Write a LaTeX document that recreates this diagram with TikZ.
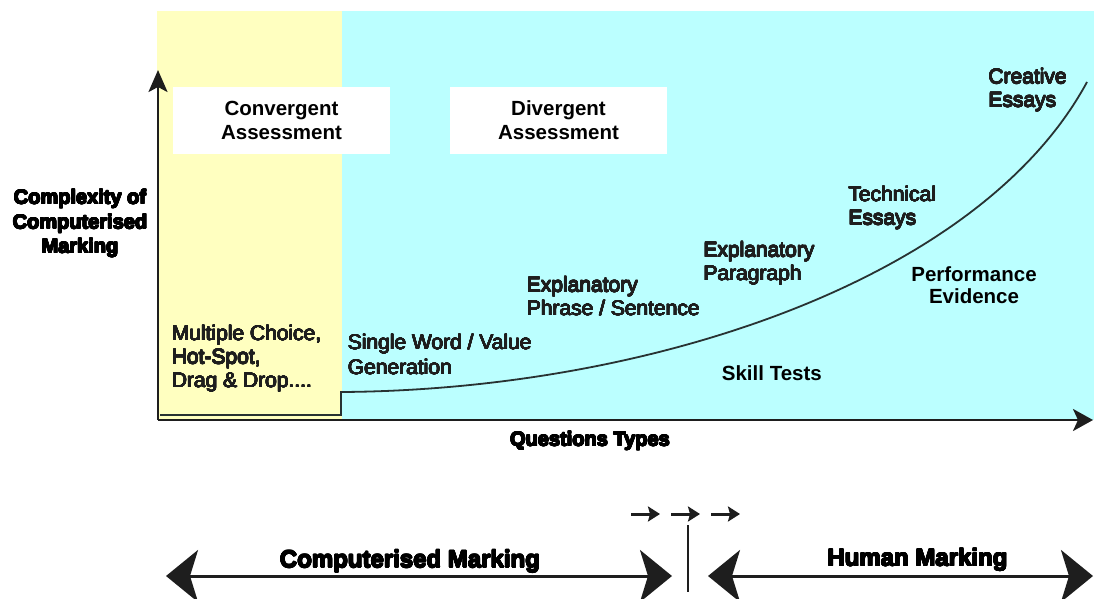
\documentclass[tikz,border=0pt]{standalone}
\usepackage{fontspec}
\setmainfont{Liberation Sans}
\usepackage[copies]{contour}
\contournumber{16}
\usetikzlibrary{arrows.meta}
\definecolor{convfill}{RGB}{255,255,192}
\definecolor{divfill}{RGB}{187,255,255}
\definecolor{inkgrey}{RGB}{30,30,30}
\definecolor{axisink}{RGB}{30,30,30}
\definecolor{curveink}{RGB}{40,50,50}
% thickened strokes for the question labels and the axis titles
\newcommand\heavyq[1]{\contourlength{0.35pt}\contour{inkgrey}{#1}}
\newcommand\heavyt[1]{\contourlength{0.55pt}\contour{black}{#1}}

\begin{document}
\begin{tikzpicture}[x=1pt,y=-1pt,
  qlabel/.style={inner sep=0pt, anchor=north west, align=left, text=inkgrey,
    font=\fontsize{21}{23.5}\selectfont},
  boldlabel/.style={inner sep=0pt, text=black,
    font=\bfseries\fontsize{20.5}{21.6}\selectfont},
  assessbox/.style={fill=white, minimum width=217pt, minimum height=67pt,
    inner sep=0pt, align=center, font=\bfseries\fontsize{20.5}{24}\selectfont},
  axistitle/.style={inner sep=0pt, align=center, text=black,
    font=\bfseries\fontsize{20}{24.5}\selectfont},
  bandtitle/.style={inner sep=0pt, anchor=base, text=black,
    font=\bfseries\fontsize{24}{28}\selectfont},
  axisline/.style={draw=axisink, line width=2.6pt},
  bigarrow/.style={draw=axisink, line width=3pt,
    {Stealth[length=32pt,width=52pt,inset=8pt]}-{Stealth[length=32pt,width=52pt,inset=8pt]}},
  smallarrow/.style={draw=axisink, line width=3pt,
    -{Stealth[length=12pt,width=15pt,inset=2pt]}}
]
\useasboundingbox (0,0) rectangle (1094,598);
\fill[white] (0,0) rectangle (1094,598);

% shaded regions behind the chart
\fill[convfill] (157,11) rectangle (342,420);
\fill[divfill] (342,11) rectangle (1094,420);

% region headings
\node[assessbox] (conv) at (281.5,120.5) {Convergent\\Assessment};
\node[assessbox] (div) at (558.5,120.5) {Divergent\\Assessment};

% complexity curve with the step at the region boundary
\draw[curveink, line width=1.8pt, line join=miter]
  (160,415) -- (341,415) -- (341,392)
  .. controls (650,390) and (980,280) .. (1087,82);

% axes
\coordinate (origin) at (158,420);
\coordinate (ytop) at (158,70);
\coordinate (xend) at (1093,420);
\draw[axisline, -{Stealth[length=22pt,width=19pt,inset=5pt]}] (origin) -- (ytop);
\draw[axisline, -{Stealth[length=20pt,width=22pt,inset=5pt]}] (origin) -- (xend);

% question type labels
\node[qlabel] (mc) at (171.7,325)
  {\heavyq{Multiple Choice,}\\\heavyq{Hot-Spot,}\\\heavyq{Drag \& Drop....}};
\node[qlabel, font=\fontsize{21}{25}\selectfont] (sw) at (347.7,334)
  {\heavyq{Single Word / Value}\\\heavyq{Generation}};
\node[qlabel] (eps) at (526.7,276.7) {\heavyq{Explanatory}\\\heavyq{Phrase / Sentence}};
\node[qlabel] (epp) at (703.3,241.7) {\heavyq{Explanatory}\\\heavyq{Paragraph}};
\node[qlabel] (tech) at (848.3,186) {\heavyq{Technical}\\\heavyq{Essays}};
\node[qlabel] (crea) at (988.3,68.3) {\heavyq{Creative}\\\heavyq{Essays}};
\node[boldlabel, anchor=north, align=center] (perf) at (974,266.7) {Performance\\Evidence};
\node[boldlabel, anchor=base west] (skill) at (721.7,380) {Skill Tests};

% axis titles
\node[axistitle, anchor=north] (ytitle) at (80,189.5)
  {\heavyt{Complexity of}\\\heavyt{Computerised}\\\heavyt{Marking}};
\node[axistitle, anchor=base] (xtitle) at (590,446) {\heavyt{Questions Types}};

% marking bands
\coordinate (cmL) at (166,576);
\coordinate (cmR) at (672,576);
\coordinate (hmL) at (708,576);
\coordinate (hmR) at (1093,576);
\draw[bigarrow] (cmL) -- (cmR);
\draw[bigarrow] (hmL) -- (hmR);
\node[bandtitle] (cm) at (410,567.5) {\heavyt{Computerised Marking}};
\node[bandtitle] (hm) at (917.5,566) {\heavyt{Human Marking}};

% divider with the direction of travel
\coordinate (divtop) at (688,525);
\coordinate (divbot) at (688,592);
\draw[draw=axisink, line width=2.4pt] (divtop) -- (divbot);
\coordinate (a1s) at (631,514);
\coordinate (a1e) at (660,514);
\coordinate (a2s) at (671,514);
\coordinate (a2e) at (700,514);
\coordinate (a3s) at (711,514);
\coordinate (a3e) at (740,514);
\draw[smallarrow] (a1s) -- (a1e);
\draw[smallarrow] (a2s) -- (a2e);
\draw[smallarrow] (a3s) -- (a3e);
\end{tikzpicture}
\end{document}
